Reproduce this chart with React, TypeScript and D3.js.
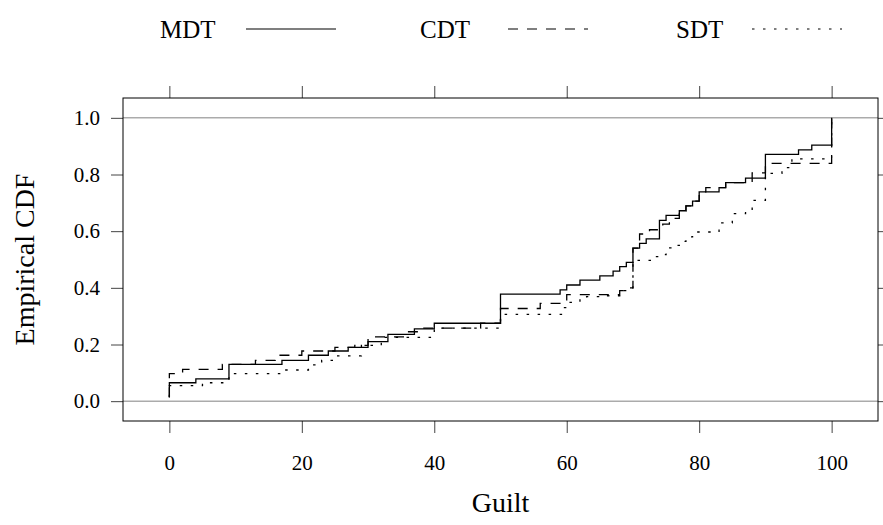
import * as d3 from "d3";
import { useRef, useEffect } from "react";

const mdtGuilt = [0, 0, 4, 9, 17, 21, 24, 27, 30, 33, 37, 40, 50, 59, 60, 62, 65, 67, 68, 69, 70, 71, 72, 74, 75, 77, 78, 79, 80, 83, 84, 87, 90, 95, 97, 100, 100];
const mdtCdf = [0.014, 0.065, 0.079, 0.13, 0.144, 0.162, 0.177, 0.19, 0.21, 0.236, 0.255, 0.275, 0.378, 0.393, 0.41, 0.427, 0.442, 0.459, 0.475, 0.49, 0.54, 0.557, 0.573, 0.638, 0.656, 0.672, 0.689, 0.706, 0.739, 0.754, 0.771, 0.787, 0.871, 0.887, 0.904, 0.904, 1.0];

const cdtGuilt = [0, 0, 2, 8, 13, 16, 20, 25, 28, 30, 36, 38, 47, 50, 56, 60, 68, 69, 70, 71, 72.5, 74.5, 75.5, 77, 78, 79, 80, 81, 84, 88, 90, 100, 100];
const cdtCdf = [0.014, 0.097, 0.112, 0.13, 0.144, 0.162, 0.177, 0.19, 0.197, 0.227, 0.245, 0.258, 0.275, 0.327, 0.345, 0.376, 0.39, 0.4, 0.54, 0.59, 0.605, 0.625, 0.645, 0.672, 0.689, 0.706, 0.739, 0.754, 0.771, 0.806, 0.839, 0.839, 1.0];

const sdtGuilt = [0, 0, 5, 9, 17, 21, 23, 25, 29, 32, 40, 50, 59.5, 60, 62, 63, 66, 68, 69, 70, 73, 74, 75, 76.5, 77, 78, 79, 83, 85, 87, 88, 90, 92.5, 94, 100, 100];
const sdtCdf = [0.014, 0.055, 0.065, 0.097, 0.11, 0.128, 0.144, 0.16, 0.197, 0.225, 0.258, 0.306, 0.33, 0.349, 0.36, 0.369, 0.372, 0.39, 0.4, 0.497, 0.51, 0.517, 0.541, 0.55, 0.564, 0.58, 0.597, 0.629, 0.662, 0.677, 0.709, 0.804, 0.824, 0.855, 0.855, 1.0];

const seriesNames = ["MDT", "CDT", "SDT"];
const xTicks = [0, 20, 40, 60, 80, 100];
const yTicks = [0, 0.2, 0.4, 0.6, 0.8, 1.0];

const width = 883;
const height = 525;
const left = 123;
const right = 878;
const top = 98;
const bottom = 421;
const font = "'Liberation Serif', 'DejaVu Serif', serif";

const dashes = ["none", "10,9", "2.5,8.5"];

export default function App() {
  const x = d3.scaleLinear([-7, 107], [left, right]);
  const y = d3.scaleLinear([-0.07, 1.07], [bottom, top]);
  const line = d3
    .line<[number, number]>()
    .x((d) => x(d[0]))
    .y((d) => y(d[1]))
    .curve(d3.curveStepAfter);

  const series = [
    d3.zip(mdtGuilt, mdtCdf),
    d3.zip(cdtGuilt, cdtCdf),
    d3.zip(sdtGuilt, sdtCdf),
  ];

  const gx = useRef(null);
  const gy = useRef(null);
  const gt = useRef(null);
  const gr = useRef(null);

  useEffect(() => {
    const style = (g) => {
      g.select(".domain").remove();
      g.selectAll(".tick line").attr("stroke", "#444");
      g.selectAll(".tick text")
        .attr("fill", "#000")
        .style("font-family", font)
        .style("font-size", "21px");
    };
    d3.select(gx.current)
      .call(d3.axisBottom(x).tickValues(xTicks).tickSize(12).tickPadding(22).tickFormat(d3.format("d")))
      .call(style);
    d3.select(gy.current)
      .call(d3.axisLeft(y).tickValues(yTicks).tickSize(12).tickPadding(11).tickFormat(d3.format(".1f")))
      .call(style);
    d3.select(gt.current)
      .call(d3.axisTop(x).tickValues(xTicks).tickSize(12).tickFormat(() => ""))
      .call(style);
    d3.select(gr.current)
      .call(d3.axisRight(y).tickValues(yTicks).tickSize(12).tickFormat(() => ""))
      .call(style);
  }, []);

  const legendX = [160, 420, 676];
  const legendLine = [
    [86, 176],
    [88, 168],
    [76, 166],
  ];

  return (
    <svg
      width={width}
      height={height}
      style={{ position: "absolute", left: 0, top: 0, background: "#fff" }}
    >
      {/* legend */}
      <g fontFamily={font} fontSize={25}>
        {seriesNames.map((name, i) => (
          <g key={name} transform={`translate(${legendX[i]},0)`}>
            <text x={0} y={38}>{name}</text>
            <line
              x1={legendLine[i][0]}
              x2={legendLine[i][1]}
              y1={29}
              y2={29}
              stroke="#000"
              strokeWidth={1.2}
              strokeDasharray={dashes[i]}
            />
          </g>
        ))}
      </g>

      <g ref={gx} transform={`translate(0,${bottom})`} />
      <g ref={gy} transform={`translate(${left},0)`} />
      <g ref={gt} transform={`translate(0,${top})`} />
      <g ref={gr} transform={`translate(${right},0)`} />

      {/* reference lines at 0 and 1 */}
      {[0, 1].map((v) => (
        <line
          key={v}
          x1={left}
          x2={right}
          y1={y(v)}
          y2={y(v)}
          stroke="#ababab"
          strokeWidth={1.5}
        />
      ))}

      <g fill="none" stroke="#000" strokeWidth={1.3}>
        {series.map((s, i) => (
          <path key={i} d={line(s)} strokeDasharray={dashes[i]} />
        ))}
      </g>

      <rect
        x={left}
        y={top}
        width={right - left}
        height={bottom - top}
        fill="none"
        stroke="#000"
        strokeWidth={1}
      />

      <text
        x={(left + right) / 2}
        y={512}
        textAnchor="middle"
        fontFamily={font}
        fontSize={28}
      >
        Guilt
      </text>
      <text
        transform={`translate(34,${(top + bottom) / 2}) rotate(-90)`}
        textAnchor="middle"
        fontFamily={font}
        fontSize={28}
      >
        Empirical CDF
      </text>
    </svg>
  );
}
